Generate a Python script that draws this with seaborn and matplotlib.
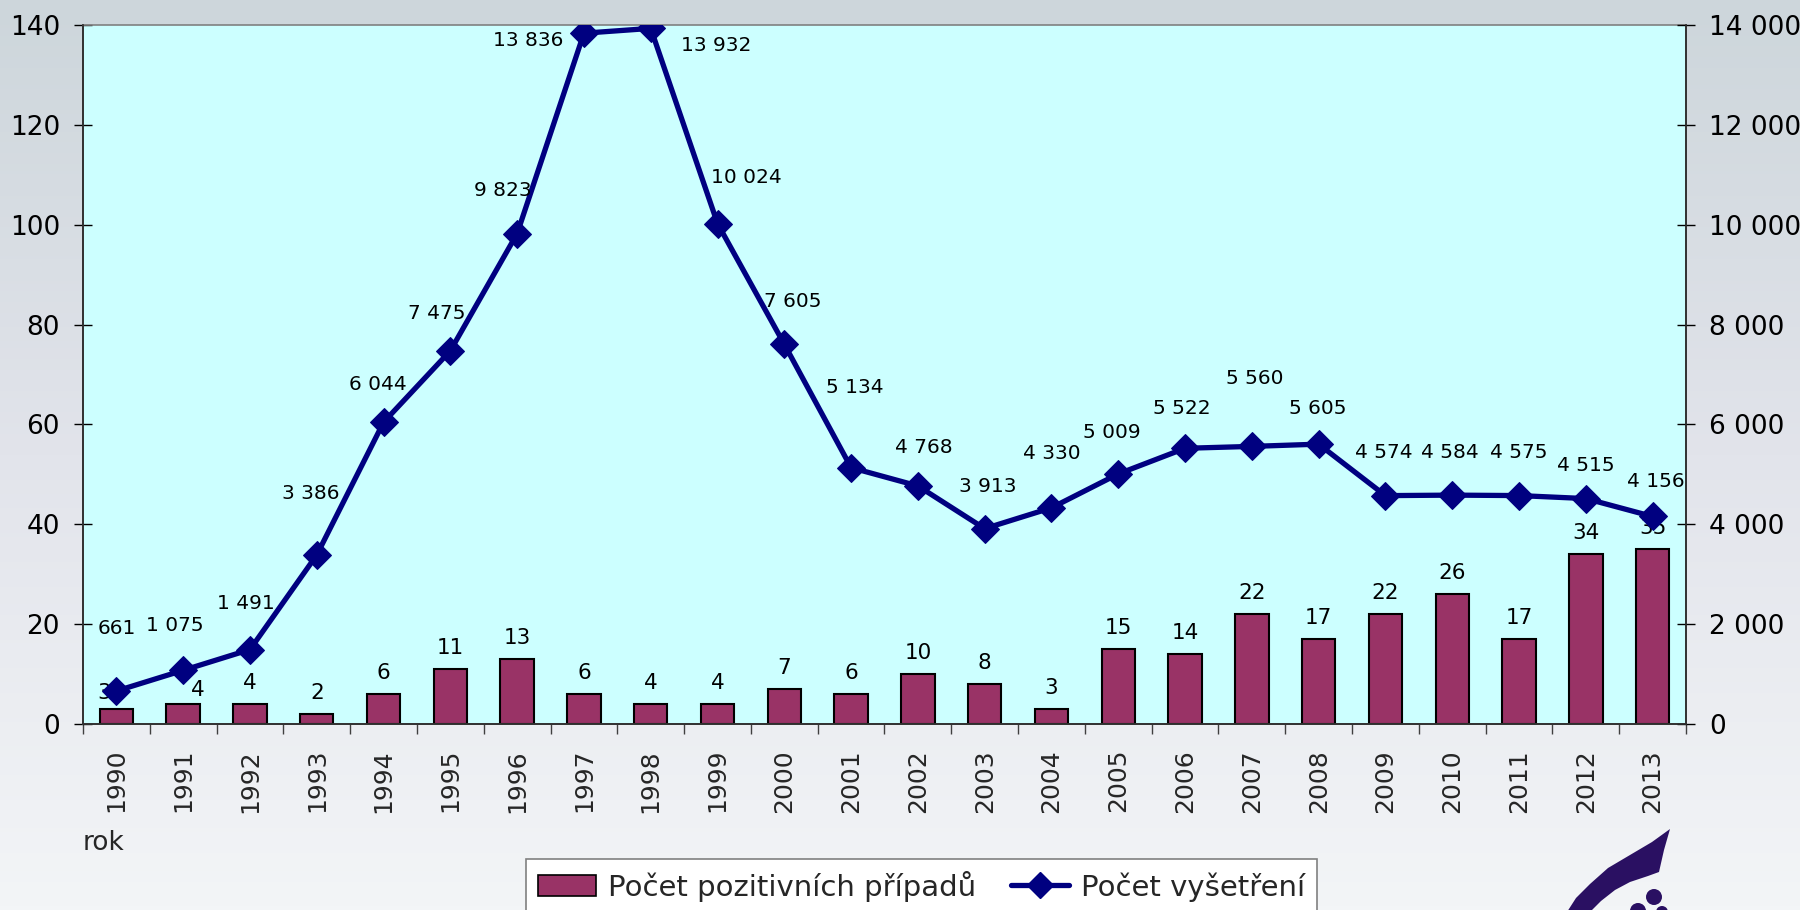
import numpy as np
import pandas as pd
import seaborn as sns
import matplotlib.pyplot as plt
from matplotlib.patches import Polygon, Ellipse, Patch
from matplotlib.lines import Line2D
from matplotlib.ticker import FuncFormatter, FixedLocator

# data
years = [str(y) for y in range(1990, 2014)]
positive = [3, 4, 4, 2, 6, 11, 13, 6, 4, 4, 7, 6, 10, 8, 3, 15, 14, 22, 17, 22, 26, 17, 34, 35]
exams = [661, 1075, 1491, 3386, 6044, 7475, 9823, 13836, 13932, 10024, 7605, 5134,
         4768, 3913, 4330, 5009, 5522, 5560, 5605, 4574, 4584, 4575, 4515, 4156]

# label offsets (points) for the line labels, as placed in the original
exam_label_offsets = [(0, 45), (-6, 32), (-3, 33), (-4, 44), (-4, 27), (-10, 27), (-10, 31),
                      (-40, -5), (47, -12), (21, 33), (6, 31), (3, 58), (4, 28), (2, 30),
                      (0, 39), (-5, 30), (-2, 29), (2, 49), (-1, 26), (-1, 31), (-2, 31),
                      (0, 31), (0, 24), (2, 25)]

bar_color = '#993366'
line_color = '#000080'

sns.set_style('ticks')
plt.rcParams['font.family'] = ['DejaVu Sans']

df = pd.DataFrame({'rok': years, 'positive': positive, 'exams': exams})

fig = plt.figure(figsize=(18, 9.1), dpi=100)

# background gradient
bg = fig.add_axes([0, 0, 1, 1], zorder=-5)
stops_y = [0.0, 0.5, 1.0]
stops_c = np.array([[205, 214, 219], [226, 228, 235], [243, 245, 247]]) / 255
t = np.linspace(0, 1, 256)
grad = np.stack([np.interp(t, stops_y, stops_c[:, k]) for k in range(3)], axis=1)
bg.imshow(grad[:, None, :], aspect='auto', extent=[0, 1, 0, 1])
bg.set_axis_off()

ax = fig.add_axes([83 / 1800, 1 - 724 / 910, (1686 - 83) / 1800, (724 - 25) / 910])
ax.set_facecolor('#ccffff')

sns.barplot(data=df, x='rok', y='positive', ax=ax, color=bar_color, saturation=1,
            edgecolor='black', linewidth=1.5, width=0.5)
ax.set_xlim(-0.5, len(years) - 0.5)
ax.set_ylim(0, 140)
ax.set_yticks(np.arange(0, 141, 20))
ax.set_xlabel('')
ax.set_ylabel('')

# bar labels
bar_dx = {0: -12, 1: 15}
bar_dy = {0: 10, 1: 8}
for i, v in enumerate(positive):
    ax.annotate(str(v), (i, v), xytext=(bar_dx.get(i, 0) * 0.72, bar_dy.get(i, 15) * 0.72),
                textcoords='offset points', ha='center', va='baseline', fontsize=15.5,
                color='black')

ax2 = ax.twinx()
sns.lineplot(x=np.arange(len(years)), y=exams, ax=ax2, color=line_color, linewidth=3.8,
             marker='D', markersize=14, markeredgecolor=line_color, markerfacecolor=line_color)
ax2.set_ylim(0, 14000)
ax2.set_yticks(np.arange(0, 14001, 2000))
ax2.yaxis.set_major_formatter(FuncFormatter(lambda v, p: f"{int(v):,}".replace(',', ' ')))
ax2.set_xlim(-0.5, len(years) - 0.5)

for i, v in enumerate(exams):
    dx, dy = exam_label_offsets[i]
    ax2.annotate(f"{v:,}".replace(',', ' '), (i, v), xytext=(dx, dy),
                 textcoords='offset points', ha='center', va='center', fontsize=14.5,
                 color='black')

# ticks and spines
for a in (ax, ax2):
    a.tick_params(axis='y', direction='inout', length=13, width=1, labelsize=19, pad=10,
                  colors='black')
ax.set_xticks(np.arange(len(years)))
ax.set_xticklabels(years, rotation=90, fontsize=18)
ax.tick_params(axis='x', which='major', length=0, pad=18)
ax.xaxis.set_minor_locator(FixedLocator(np.arange(-0.5, len(years), 1.0)))
ax.tick_params(axis='x', which='minor', direction='out', length=7, width=1, color='#404040')
for a in (ax, ax2):
    for s in a.spines.values():
        s.set_linewidth(1.2)
        s.set_color('#303030')
    a.spines['top'].set_color('#808080')
ax2.spines['top'].set_visible(False)

fig.text(83 / 1800, 1 - 850 / 910, 'rok', fontsize=19, va='baseline', ha='left')

# legend
handles = [Patch(facecolor=bar_color, edgecolor='black', linewidth=1.2),
           Line2D([0], [0], color=line_color, linewidth=3.8, marker='D', markersize=13)]
leg = fig.legend(handles, ['Počet pozitivních případů', 'Počet vyšetření'], ncol=2,
                 loc='upper left', bbox_to_anchor=(526 / 1800, 1 - 859 / 910),
                 fontsize=21, frameon=True, fancybox=False, framealpha=1,
                 edgecolor='#808080', handlelength=2.0, handletextpad=0.4,
                 columnspacing=1.2, borderpad=0.4, borderaxespad=0)
leg.get_frame().set_linewidth(1.2)

# logo in the lower right corner
logo_color = '#2a1062'
leaf = [(1670, 829), (1652, 842), (1630, 855), (1608, 868), (1590, 884), (1576, 898),
        (1567, 912), (1590, 912), (1601, 901), (1615, 890), (1630, 882), (1648, 876),
        (1659, 872), (1664, 850)]
leaf = [(x / 1800, 1 - y / 910) for x, y in leaf]
fig.patches.append(Polygon(leaf, closed=True, transform=fig.transFigure,
                           facecolor=logo_color, edgecolor='none'))
for cx, cy, r in [(1654, 897, 8), (1638, 911, 8), (1662, 912, 6)]:
    fig.patches.append(Ellipse((cx / 1800, 1 - cy / 910), 2 * r / 1800, 2 * r / 910,
                               transform=fig.transFigure, facecolor=logo_color,
                               edgecolor='none'))

fig.savefig('out.png', dpi=100)
plt.close(fig)
